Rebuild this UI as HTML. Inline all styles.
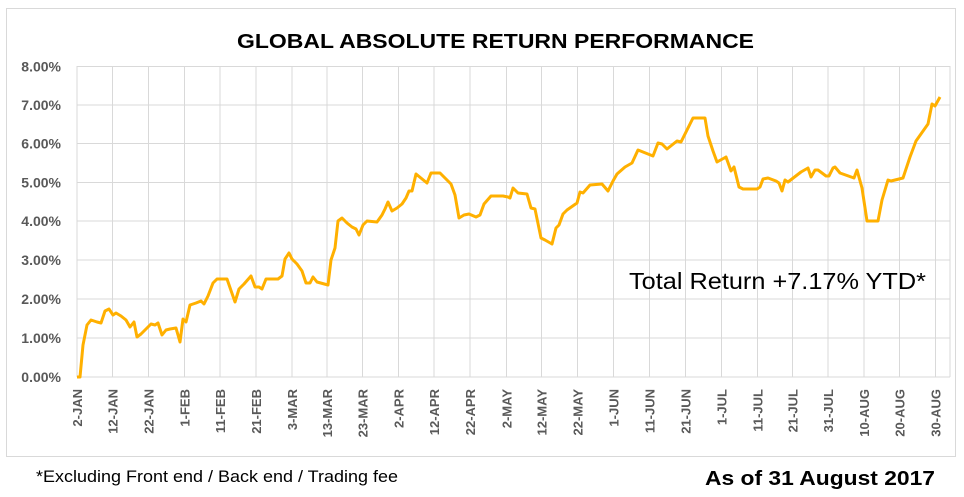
<!DOCTYPE html>
<html><head><meta charset="utf-8"><style>
html,body{margin:0;padding:0;background:#fff;}
svg{display:block;}
</style></head><body>
<svg width="964" height="497" viewBox="0 0 964 497" xmlns="http://www.w3.org/2000/svg">
<rect x="6.5" y="8.5" width="949" height="448" fill="#fff" stroke="#d9d9d9" stroke-width="1"/>
<g stroke="#d9d9d9" stroke-width="1">
<line x1="77" y1="66.5" x2="950" y2="66.5"/><line x1="77" y1="105" x2="950" y2="105"/>
<line x1="77" y1="143.5" x2="950" y2="143.5"/><line x1="77" y1="182.5" x2="950" y2="182.5"/>
<line x1="77" y1="221" x2="950" y2="221"/><line x1="77" y1="260" x2="950" y2="260"/>
<line x1="77" y1="299" x2="950" y2="299"/><line x1="77" y1="338" x2="950" y2="338"/>
<line x1="77" y1="377" x2="950" y2="377"/>
<line x1="77" y1="66" x2="77" y2="377"/><line x1="112.5" y1="66" x2="112.5" y2="377"/>
<line x1="148.5" y1="66" x2="148.5" y2="377"/><line x1="184.5" y1="66" x2="184.5" y2="377"/>
<line x1="220" y1="66" x2="220" y2="377"/><line x1="256" y1="66" x2="256" y2="377"/>
<line x1="292" y1="66" x2="292" y2="377"/><line x1="327" y1="66" x2="327" y2="377"/>
<line x1="362.5" y1="66" x2="362.5" y2="377"/><line x1="398.5" y1="66" x2="398.5" y2="377"/>
<line x1="434" y1="66" x2="434" y2="377"/><line x1="470" y1="66" x2="470" y2="377"/>
<line x1="506.5" y1="66" x2="506.5" y2="377"/><line x1="541.5" y1="66" x2="541.5" y2="377"/>
<line x1="577.5" y1="66" x2="577.5" y2="377"/><line x1="613.5" y1="66" x2="613.5" y2="377"/>
<line x1="649.5" y1="66" x2="649.5" y2="377"/><line x1="685.5" y1="66" x2="685.5" y2="377"/>
<line x1="721.5" y1="66" x2="721.5" y2="377"/><line x1="757.5" y1="66" x2="757.5" y2="377"/>
<line x1="792.5" y1="66" x2="792.5" y2="377"/><line x1="828" y1="66" x2="828" y2="377"/>
<line x1="864" y1="66" x2="864" y2="377"/><line x1="899.5" y1="66" x2="899.5" y2="377"/>
<line x1="935.5" y1="66" x2="935.5" y2="377"/><line x1="950" y1="66" x2="950" y2="377"/>
</g>
<text x="495.5" y="48" text-anchor="middle" font-family="Liberation Sans, sans-serif" font-weight="bold" font-size="20" textLength="517" lengthAdjust="spacingAndGlyphs" fill="#000">GLOBAL ABSOLUTE RETURN PERFORMANCE</text>
<g font-family="Liberation Sans, sans-serif" font-weight="bold" font-size="14" fill="#595959" text-anchor="end">
<text x="61" y="71.5">8.00%</text><text x="61" y="110">7.00%</text><text x="61" y="148.5">6.00%</text>
<text x="61" y="187.5">5.00%</text><text x="61" y="226">4.00%</text><text x="61" y="265">3.00%</text>
<text x="61" y="304">2.00%</text><text x="61" y="343">1.00%</text><text x="61" y="382">0.00%</text>
</g>
<g font-family="Liberation Sans, sans-serif" font-weight="bold" font-size="13" fill="#595959" text-anchor="end">
<text transform="translate(82,389) rotate(-90)">2-JAN</text>
<text transform="translate(117.5,389) rotate(-90)">12-JAN</text>
<text transform="translate(153.5,389) rotate(-90)">22-JAN</text>
<text transform="translate(189.5,389) rotate(-90)">1-FEB</text>
<text transform="translate(225,389) rotate(-90)">11-FEB</text>
<text transform="translate(261,389) rotate(-90)">21-FEB</text>
<text transform="translate(297,389) rotate(-90)">3-MAR</text>
<text transform="translate(332,389) rotate(-90)">13-MAR</text>
<text transform="translate(367.5,389) rotate(-90)">23-MAR</text>
<text transform="translate(403.5,389) rotate(-90)">2-APR</text>
<text transform="translate(439,389) rotate(-90)">12-APR</text>
<text transform="translate(475,389) rotate(-90)">22-APR</text>
<text transform="translate(511.5,389) rotate(-90)">2-MAY</text>
<text transform="translate(546.5,389) rotate(-90)">12-MAY</text>
<text transform="translate(582.5,389) rotate(-90)">22-MAY</text>
<text transform="translate(618.5,389) rotate(-90)">1-JUN</text>
<text transform="translate(654.5,389) rotate(-90)">11-JUN</text>
<text transform="translate(690.5,389) rotate(-90)">21-JUN</text>
<text transform="translate(726.5,389) rotate(-90)">1-JUL</text>
<text transform="translate(762.5,389) rotate(-90)">11-JUL</text>
<text transform="translate(797.5,389) rotate(-90)">21-JUL</text>
<text transform="translate(833,389) rotate(-90)">31-JUL</text>
<text transform="translate(869,389) rotate(-90)">10-AUG</text>
<text transform="translate(904.5,389) rotate(-90)">20-AUG</text>
<text transform="translate(940.5,389) rotate(-90)">30-AUG</text>
</g>
<polyline fill="none" stroke="#ffb000" stroke-width="3" stroke-linejoin="round" points="77,377 80,377 83,345 87,325 91,320 97,322 101,323 105,311 109,309 113,315 116,313 121,316 126,320 130,327 134,322 137,337 141,334 147,328 151,324 155,325 158,323 162,335 166,330 170,329 176,328 180,342 183,319 186,322 190,305 196,303 201,301 204,304 208,296 213,283 217,279 227,279 235,302 239,289 244,284 251,276 255,287 259,287 262,289 266,279 278,279 282,276 285,259 289,253 292,259 297,264 302,271 306,283 310,283 313,277 317,282 328,285 331,260 335,248 338,221 342,218 347,223 352,227 356,229 359,235 363,225 367,221 377,222 382,215 385,209 388,202 392,211 397,208 402,204 406,198 409,191 412,191 416,174 427,183 431,173 440,173 445,178 451,184 455,195 459,218 464,215 469,214 476,217 480,215 484,204 491,196 503,196 508,197 510,198 513,188 518,193 527,194 531,208 535,209 541,238 545,240 552,244 556,228 559,225 563,214 567,210 577,203 580,192 583,193 590,185 602,184 608,191 613,181 617,174 625,167 632,163 638,150 648,154 653,156 658,143 662,144 667,149 677,141 681,142 690,124 693,118 703,118 705,118 708,136 713,151 717,162 726,157 731,171 734,167 739,187 743,189 757,189 760,187 763,179 768,178 776,181 779,183 782,191 785,180 788,182 801,172 808,168 811,177 815,170 818,170 826,176 829,176 833,168 835,167 840,173 854,178 857,170 862,188 867,221 878,221 882,200 888,180 891,181 903,178 910,157 916,141 928,124 932,104 935,106 940,97"/>
<text x="629" y="289" font-family="Liberation Sans, sans-serif" font-size="23" fill="#000" textLength="297" lengthAdjust="spacingAndGlyphs">Total Return +7.17% YTD*</text>
<text x="36" y="482" font-family="Liberation Sans, sans-serif" font-size="16.5" fill="#000" textLength="362" lengthAdjust="spacingAndGlyphs">*Excluding Front end / Back end / Trading fee</text>
<text x="705" y="485" font-family="Liberation Sans, sans-serif" font-weight="bold" font-size="20" fill="#000" textLength="230" lengthAdjust="spacingAndGlyphs">As  of  31 August 2017</text>
</svg>
</body></html>
